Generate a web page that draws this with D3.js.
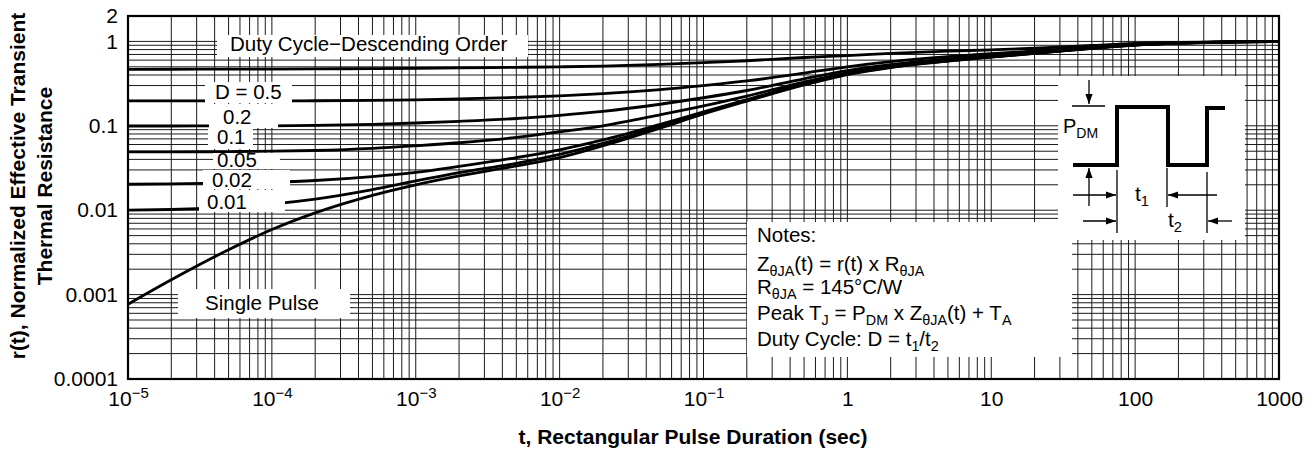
<!DOCTYPE html>
<html>
<head>
<meta charset="utf-8">
<script src="https://cdn.jsdelivr.net/npm/d3@7"></script>
<style>
  body { margin: 0; background: #fff; }
  svg { display: block; font-family: "Liberation Sans", Arial, Helvetica, sans-serif; }
</style>
</head>
<body>
<div id="chart"></div>
<script>
/* Data */
const PULSE_T = [1e-5, 2e-5, 5e-5, 1e-4, 2e-4, 5e-4, 1e-3, 2e-3, 5e-3, 1e-2, 2e-2, 5e-2, 0.1, 0.2, 0.5, 1, 2, 5, 10, 20, 50, 100, 200, 500, 1000]
const R_D50 = [0.467, 0.468, 0.469, 0.47, 0.472, 0.476, 0.48, 0.485, 0.493, 0.5, 0.51, 0.535, 0.56, 0.59, 0.645, 0.68, 0.72, 0.765, 0.795, 0.83, 0.895, 0.945, 0.972, 0.99, 1.0]
const R_D20 = [0.197, 0.197, 0.197, 0.197, 0.198, 0.2, 0.203, 0.208, 0.217, 0.226, 0.24, 0.268, 0.3, 0.34, 0.42, 0.5, 0.575, 0.66, 0.715, 0.77, 0.86, 0.93, 0.965, 0.99, 1.0]
const R_D10 = [0.0995, 0.0995, 0.0998, 0.1, 0.101, 0.104, 0.108, 0.113, 0.122, 0.133, 0.148, 0.18, 0.215, 0.262, 0.36, 0.45, 0.53, 0.62, 0.68, 0.74, 0.84, 0.915, 0.96, 0.988, 1.0]
const R_D05 = [0.049, 0.049, 0.0495, 0.05, 0.051, 0.054, 0.058, 0.063, 0.073, 0.085, 0.1, 0.135, 0.172, 0.225, 0.33, 0.425, 0.51, 0.6, 0.665, 0.73, 0.835, 0.91, 0.955, 0.987, 1.0]
const R_D02 = [0.0203, 0.0205, 0.021, 0.0215, 0.0225, 0.025, 0.028, 0.033, 0.042, 0.052, 0.068, 0.104, 0.146, 0.204, 0.314, 0.414, 0.5, 0.592, 0.658, 0.725, 0.832, 0.908, 0.954, 0.986, 1.0]
const R_D01 = [0.01, 0.0102, 0.0108, 0.0118, 0.0135, 0.0175, 0.0222, 0.0278, 0.036, 0.046, 0.062, 0.099, 0.142, 0.2, 0.31, 0.41, 0.495, 0.588, 0.655, 0.722, 0.83, 0.907, 0.953, 0.986, 1.0]
const R_SINGLE = [0.00077, 0.0015, 0.0034, 0.0059, 0.0093, 0.015, 0.02, 0.0255, 0.0335, 0.042, 0.058, 0.094, 0.138, 0.196, 0.305, 0.405, 0.49, 0.585, 0.652, 0.72, 0.828, 0.906, 0.952, 0.985, 1.0]
const SERIES = [R_D50, R_D20, R_D10, R_D05, R_D02, R_D01, R_SINGLE]

const X_TICKS = [1e-5, 1e-4, 1e-3, 1e-2, 1e-1, 1, 10, 100, 1000]
const X_TICK_BASE = ["10", "10", "10", "10", "10", "1", "10", "100", "1000"]
const X_TICK_EXP = ["\u22125", "\u22124", "\u22123", "\u22122", "\u22121", "", "", "", ""]
const Y_TICKS = [2, 1, 0.1, 0.01, 0.001, 0.0001]
const Y_TICK_LABELS = ["2", "1", "0.1", "0.01", "0.001", "0.0001"]

/* Layout */
const WIDTH = 1315
const HEIGHT = 452
const PLOT = {"left": 128, "right": 1279, "top": 16, "bottom": 379}
const FONT = 21

const svg = d3.select("#chart")
              .append("svg")
              .attr("width", WIDTH)
              .attr("height", HEIGHT);

const xScale = d3.scaleLog().domain([1e-5, 1000]).range([PLOT.left, PLOT.right])
const yScale = d3.scaleLog().domain([1e-4, 2]).range([PLOT.bottom, PLOT.top])

/* Grid */
const grid = svg.append("g").attr("stroke", "#1a1a1a").attr("stroke-width", 1)
grid.selectAll(".vx")
    .data(xScale.ticks())
    .enter()
    .append("line")
    .attr("x1", d => xScale(d)).attr("x2", d => xScale(d))
    .attr("y1", PLOT.top).attr("y2", PLOT.bottom)
grid.selectAll(".hy")
    .data(yScale.ticks())
    .enter()
    .append("line")
    .attr("y1", d => yScale(d)).attr("y2", d => yScale(d))
    .attr("x1", PLOT.left).attr("x2", PLOT.right)

/* Curves */
const line = d3.line()
               .x((d, i) => xScale(PULSE_T[i]))
               .y(d => yScale(d))
               .curve(d3.curveMonotoneX)
svg.append("g")
   .selectAll("path")
   .data(SERIES)
   .enter()
   .append("path")
   .attr("d", line)
   .attr("fill", "none")
   .attr("stroke", "#000")
   .attr("stroke-width", 2.8)

/* White label boxes that break the grid and curves */
const BOXES = [
  [217, 35, 311, 22],
  [205, 82, 87, 21],
  [209, 104, 69, 24],
  [208, 128, 45, 21],
  [213, 153, 67, 16],
  [203, 170, 87, 19],
  [199, 190, 86, 22],
  [178, 289, 172, 29],
  [747, 222, 325, 135],
  [1058, 76, 187, 164]
]
svg.append("g")
   .selectAll("rect")
   .data(BOXES)
   .enter()
   .append("rect")
   .attr("x", d => d[0]).attr("y", d => d[1])
   .attr("width", d => d[2]).attr("height", d => d[3])
   .attr("fill", "#fff")

/* Frame */
svg.append("rect")
   .attr("x", PLOT.left).attr("y", PLOT.top)
   .attr("width", PLOT.right - PLOT.left).attr("height", PLOT.bottom - PLOT.top)
   .attr("fill", "none").attr("stroke", "#000").attr("stroke-width", 2.2)

/* Axes */
const yAxis = d3.axisLeft(yScale).tickValues(Y_TICKS).tickSize(0).tickPadding(10)
                .tickFormat((d, i) => Y_TICK_LABELS[i])
svg.append("g")
   .attr("transform", "translate(" + PLOT.left + ", 0)")
   .call(yAxis)
   .call(g => g.select(".domain").remove())
   .selectAll("text")
   .attr("font-size", FONT).attr("font-family", null).attr("fill", "#000")

const xAxis = d3.axisBottom(xScale).tickValues(X_TICKS).tickSize(0).tickFormat(() => "")
const xg = svg.append("g")
              .attr("transform", "translate(0, " + PLOT.bottom + ")")
              .call(xAxis)
xg.select(".domain").remove()
xg.selectAll(".tick text").remove()
xg.selectAll(".tick")
  .append("text")
  .attr("y", 27)
  .attr("text-anchor", "middle")
  .attr("font-size", FONT)
  .attr("fill", "#000")
  .each(function (d, i) {
    const t = d3.select(this)
    t.append("tspan").text(X_TICK_BASE[i])
    if (X_TICK_EXP[i]) t.append("tspan").attr("dy", -8).attr("font-size", 15).text(X_TICK_EXP[i])
  })

/* Axis titles */
svg.append("text")
   .attr("x", 693).attr("y", 444)
   .attr("text-anchor", "middle").attr("font-weight", "bold").attr("font-size", FONT)
   .text("t, Rectangular Pulse Duration (sec)")
svg.append("text")
   .attr("transform", "translate(25, 186) rotate(-90)")
   .attr("text-anchor", "middle").attr("font-weight", "bold").attr("font-size", FONT)
   .text("r(t), Normalized Effective Transient")
svg.append("text")
   .attr("transform", "translate(52, 186) rotate(-90)")
   .attr("text-anchor", "middle").attr("font-weight", "bold").attr("font-size", FONT)
   .text("Thermal Resistance")

/* Curve labels */
const LABELS = [
  ["Duty Cycle\u2212Descending Order", 230, 51],
  ["D = 0.5", 215, 99],
  ["0.2", 223, 123.5],
  ["0.1", 217, 144],
  ["0.05", 217, 166.5],
  ["0.02", 212, 187],
  ["0.01", 207, 209],
  ["Single Pulse", 205, 309.5]
]
svg.append("g")
   .selectAll("text")
   .data(LABELS)
   .enter()
   .append("text")
   .attr("x", d => d[1]).attr("y", d => d[2])
   .attr("font-size", 20.5)
   .text(d => d[0])

/* Text with subscripts: parts are [text, isSub] */
const richText = (x, y, parts, size) => {
  const t = svg.append("text").attr("x", x).attr("y", y).attr("font-size", size)
  let sub = false
  parts.forEach(p => {
    const s = t.append("tspan").text(p[0])
    if (p[1] && !sub) { s.attr("dy", 5).attr("font-size", size * 0.7); sub = true }
    else if (p[1]) { s.attr("font-size", size * 0.7) }
    else if (sub) { s.attr("dy", -5); sub = false }
  })
  return t
}

/* Notes */
richText(757, 242, [["Notes:"]], 20.5)
richText(757, 271, [["Z"], ["\u03b8JA", 1], ["(t) = r(t) x R"], ["\u03b8JA", 1]], 20.5)
richText(757, 294, [["R"], ["\u03b8JA", 1], [" = 145\u00b0C/W"]], 20.5)
richText(757, 320, [["Peak T"], ["J", 1], [" = P"], ["DM", 1], [" x Z"], ["\u03b8JA", 1], ["(t) + T"], ["A", 1]], 20.5)
richText(757, 346, [["Duty Cycle: D = t"], ["1", 1], ["/t"], ["2", 1]], 20.5)

/* Inset pulse diagram */
const inset = svg.append("g").attr("stroke", "#000").attr("fill", "none")
inset.append("path")
     .attr("d", "M1073,165 H1117 V107 H1168 V165 H1207 V108 H1225")
     .attr("stroke-width", 4).attr("stroke-linejoin", "miter")
const seg = (x1, y1, x2, y2) => inset.append("line")
  .attr("x1", x1).attr("y1", y1).attr("x2", x2).attr("y2", y2).attr("stroke-width", 1.3)
const arrow = (x1, y1, x2, y2) => {
  seg(x1, y1, x2, y2)
  const a = Math.atan2(y2 - y1, x2 - x1), L = 10, w = 3.6
  const bx = x2 - L * Math.cos(a), by = y2 - L * Math.sin(a)
  const px = -Math.sin(a) * w, py = Math.cos(a) * w
  inset.append("path")
       .attr("d", "M" + x2 + "," + y2 + " L" + (bx + px) + "," + (by + py) + " L" + (bx - px) + "," + (by - py) + "Z")
       .attr("fill", "#000").attr("stroke", "none")
}
arrow(1089, 80, 1089, 104)
seg(1072, 106, 1105, 106)
arrow(1089, 206, 1089, 168)
seg(1117, 170, 1117, 233)
seg(1167, 168, 1167, 207)
seg(1207, 172, 1207, 233)
arrow(1073, 195, 1116, 195)
arrow(1217, 195, 1168, 195)
arrow(1083, 221, 1116, 221)
arrow(1232, 221, 1208, 221)

richText(1063, 133, [["P"], ["DM", 1]], 20)
richText(1135, 201, [["t"], ["1", 1]], FONT)
richText(1168, 227, [["t"], ["2", 1]], FONT)
</script>
</body>
</html>
